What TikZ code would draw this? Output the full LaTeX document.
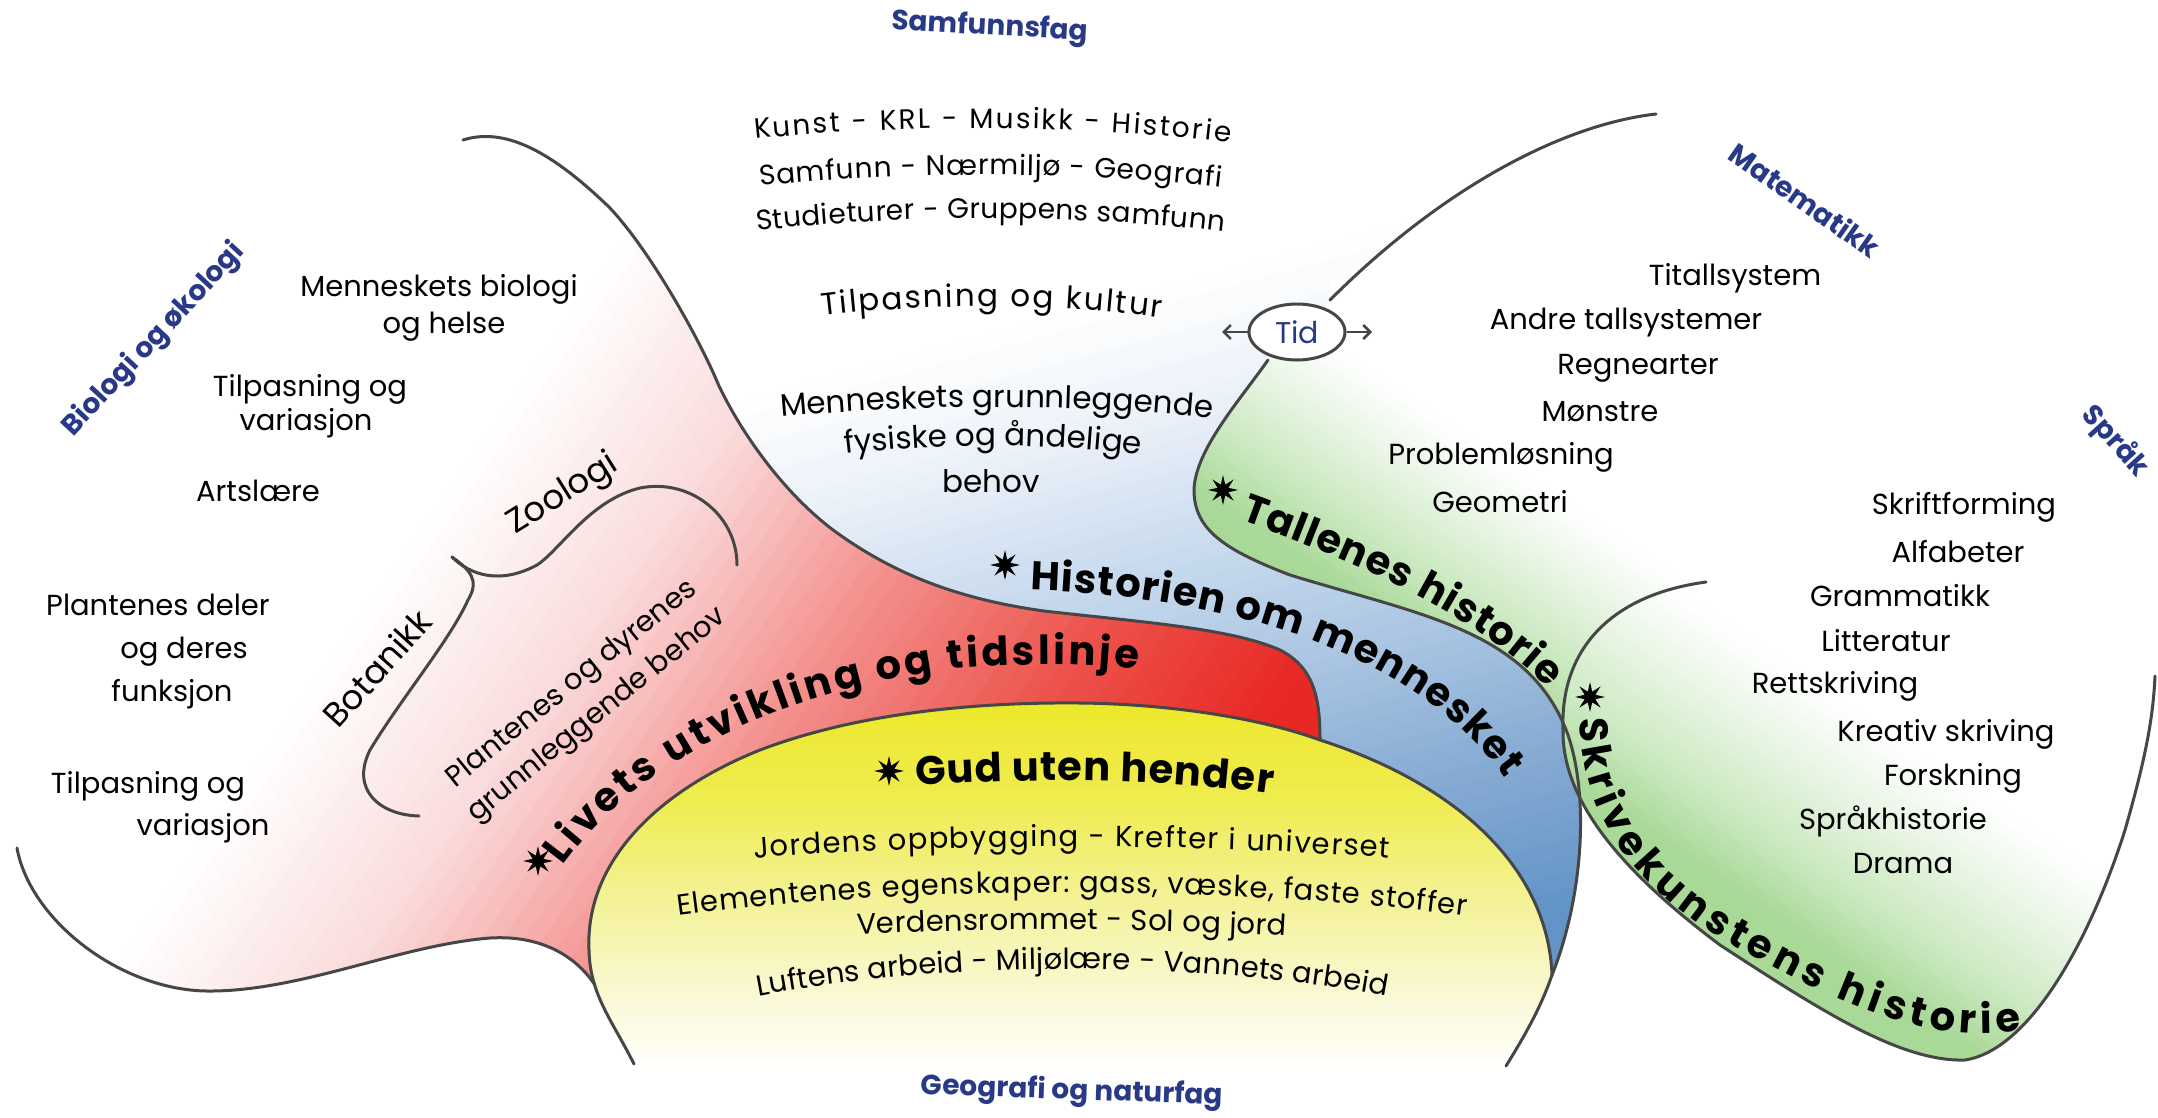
\documentclass[tikz,border=0pt]{standalone}
\usepackage{fontspec}
\setmainfont{Poppins}
\usetikzlibrary{decorations.text,shapes.geometric,arrows.meta}
\definecolor{navy}{RGB}{40,58,135}
\definecolor{ol}{RGB}{70,70,70}
\definecolor{rd1}{RGB}{250,218,218}
\definecolor{rd2}{RGB}{243,145,142}
\definecolor{rd3}{RGB}{237,85,78}
\definecolor{rd4}{RGB}{232,40,36}
\definecolor{bl1}{RGB}{235,241,249}
\definecolor{bl2}{RGB}{205,222,240}
\definecolor{bl3}{RGB}{170,197,226}
\definecolor{bl4}{RGB}{135,172,211}
\definecolor{bl5}{RGB}{98,148,200}
\definecolor{ye1}{RGB}{236,232,42}
\definecolor{ye2}{RGB}{239,236,80}
\definecolor{ye3}{RGB}{244,242,150}
\definecolor{ye4}{RGB}{250,249,215}
\definecolor{gr1}{RGB}{168,217,150}
\definecolor{gr2}{RGB}{205,234,195}
\definecolor{gr3}{RGB}{234,246,230}
% disjoint gradient strips: p0 p1 c0 c1 n
\newcommand\gradseg[5]{%
  \foreach \k in {1,...,#5}{%
    \pgfmathsetmacro\pa{#1+(#2-#1)*(\k-1)/#5}%
    \pgfmathsetmacro\pb{#1+(#2-#1)*\k/#5+1.5}%
    \pgfmathsetmacro\pc{100-100*(\k-0.5)/#5}%
    \fill[#3!\pc!#4] (\pa,-3000) rectangle (\pb,3000);}}
\newcommand\gradfill[3]{\fill[#1] (#2,-3000) rectangle (#3,3000);}
\newcommand\lblfont{\fontsize{29}{34}\selectfont}
\newcommand\smfont{\fontsize{28}{33}\selectfont}
\newcommand\midfont{\fontsize{31}{36}\selectfont}
\newcommand\bigfont{\fontsize{40}{44}\selectfont\bfseries}
\begin{document}
\begin{tikzpicture}[x=1pt,y=-1pt,
  outl/.style={draw=ol, line width=3pt, line cap=round},
  lbl/.style={font=\lblfont, inner sep=0pt},
  ttl/.style={font=\fontsize{28}{32}\selectfont\bfseries, text=navy, inner sep=0pt},
  starx/.style={star, star points=8, star point ratio=2.6, fill=black, minimum size=30pt, inner sep=0pt},
  arrowtid/.style={draw=ol, line width=2.5pt, -{Straight Barb[length=7pt,width=14pt]}},
  fitsm/.style={decorate, decoration={text along path, text align=fit to path, text={|\smfont|#1}}},
  fitmid/.style={decorate, decoration={text along path, text align=fit to path, text={|\midfont|#1}}},
  fitlbl/.style={decorate, decoration={text along path, text align=fit to path, text={|\lblfont|#1}}},
  fitbig/.style={decorate, decoration={text along path, text align=fit to path, text={|\bigfont|#1}}}
]
\useasboundingbox (0,0) rectangle (2158,1117);
\fill[white] (0,0) rectangle (2158,1117);

% ---------- blue region
\begin{scope}
\clip (463,140) .. controls (510,125) and (560,160) .. (609,207)
 .. controls (650,250) and (700,340) .. (719,386)
 .. controls (745,440) and (790,500) .. (840,535)
 .. controls (890,570) and (950,598) .. (1044,611)
 .. controls (1140,622) and (1230,628) .. (1280,650)
 .. controls (1315,668) and (1320,700) .. (1320,740)
 .. controls (1460,785) and (1548,870) .. (1552,975)
 .. controls (1582,900) and (1590,800) .. (1568,735)
 .. controls (1530,630) and (1420,615) .. (1290,575)
 .. controls (1225,550) and (1194,530) .. (1194,490)
 .. controls (1195,450) and (1240,400) .. (1268,360)
 -- (1330,300)
 .. controls (1440,190) and (1560,125) .. (1656,114)
 -- (1656,-50) -- (463,-50) -- cycle;
\begin{scope}[rotate=-75]
 \gradfill{white}{-3000}{581}
 \gradseg{580}{700}{white}{bl1}{8}
 \gradseg{700}{820}{bl1}{bl2}{8}
 \gradseg{820}{980}{bl2}{bl3}{10}
 \gradseg{980}{1120}{bl3}{bl4}{10}
 \gradseg{1120}{1280}{bl4}{bl5}{10}
 \gradfill{bl5}{1280}{5000}
\end{scope}
\end{scope}

% ---------- red region
\begin{scope}
\clip (463,140) .. controls (510,125) and (560,160) .. (609,207)
 .. controls (650,250) and (700,340) .. (719,386)
 .. controls (745,440) and (790,500) .. (840,535)
 .. controls (890,570) and (950,598) .. (1044,611)
 .. controls (1140,622) and (1230,628) .. (1280,650)
 .. controls (1315,668) and (1320,700) .. (1320,740)
 .. controls (1260,718) and (1170,704) .. (1080,703)
 .. controls (980,702) and (860,712) .. (760,750)
 .. controls (660,790) and (585,860) .. (589,950)
 -- (595,985)
 .. controls (575,955) and (540,935) .. (490,938)
 .. controls (400,945) and (300,992) .. (207,991)
 .. controls (120,990) and (30,920) .. (17,848)
 -- (-50,848) -- (-50,140) -- cycle;
\begin{scope}[rotate=-35]
 \gradfill{white}{-3000}{651}
 \gradseg{650}{850}{white}{rd1}{12}
 \gradseg{850}{1050}{rd1}{rd2}{12}
 \gradseg{1050}{1250}{rd2}{rd3}{12}
 \gradseg{1250}{1450}{rd3}{rd4}{12}
 \gradfill{rd4}{1450}{5000}
\end{scope}
\end{scope}

% ---------- yellow dome
\begin{scope}
\clip (634,1064) .. controls (612,1020) and (590,995) .. (589,950)
 .. controls (585,860) and (660,790) .. (760,750)
 .. controls (860,712) and (980,702) .. (1080,703)
 .. controls (1170,704) and (1260,718) .. (1320,740)
 .. controls (1460,785) and (1548,870) .. (1552,975)
 .. controls (1540,1010) and (1522,1040) .. (1506,1066)
 -- (1506,1200) -- (634,1200) -- cycle;
\begin{scope}[rotate=-90]
 \gradfill{ye1}{-3000}{701}
 \gradseg{700}{800}{ye1}{ye2}{8}
 \gradseg{800}{900}{ye2}{ye3}{10}
 \gradseg{900}{1000}{ye3}{ye4}{10}
 \gradseg{1000}{1070}{ye4}{white}{8}
 \gradfill{white}{1070}{5000}
\end{scope}
\end{scope}

% ---------- green (Tallenes)
\begin{scope}
\clip (1268,360) .. controls (1240,400) and (1195,450) .. (1194,490)
 .. controls (1194,530) and (1225,550) .. (1290,575)
 .. controls (1420,615) and (1530,630) .. (1568,735)
 -- (1563,730)
 .. controls (1560,650) and (1610,595) .. (1706,582)
 -- (1800,582) -- (1800,280) -- (1330,280) -- (1330,300) -- cycle;
\begin{scope}[rotate=56]
 \gradfill{gr1}{-3000}{261}
 \gradseg{260}{330}{gr1}{gr2}{8}
 \gradseg{330}{400}{gr2}{gr3}{8}
 \gradseg{400}{460}{gr3}{white}{6}
 \gradfill{white}{460}{5000}
\end{scope}
\end{scope}

% ---------- green (Skrivekunstens)
\begin{scope}
\clip (1706,582) .. controls (1610,595) and (1560,650) .. (1563,730)
 .. controls (1562,800) and (1620,870) .. (1720,945)
 .. controls (1820,1010) and (1900,1062) .. (1965,1060)
 .. controls (2030,1050) and (2090,940) .. (2125,830)
 .. controls (2145,760) and (2153,720) .. (2155,676)
 -- (2155,560) -- (1706,560) -- cycle;
\begin{scope}[rotate=56]
 \gradfill{gr1}{-3000}{231}
 \gradseg{230}{300}{gr1}{gr2}{8}
 \gradseg{300}{380}{gr2}{gr3}{8}
 \gradseg{380}{450}{gr3}{white}{6}
 \gradfill{white}{450}{5000}
\end{scope}
\end{scope}

% ---------- outlines
\draw[outl] (463,140) .. controls (510,125) and (560,160) .. (609,207)
 .. controls (650,250) and (700,340) .. (719,386)
 .. controls (745,440) and (790,500) .. (840,535)
 .. controls (890,570) and (950,598) .. (1044,611)
 .. controls (1140,622) and (1230,628) .. (1280,650)
 .. controls (1315,668) and (1320,700) .. (1320,740);
\draw[outl] (634,1064) .. controls (612,1020) and (590,995) .. (589,950)
 .. controls (585,860) and (660,790) .. (760,750)
 .. controls (860,712) and (980,702) .. (1080,703)
 .. controls (1170,704) and (1260,718) .. (1320,740)
 .. controls (1460,785) and (1548,870) .. (1552,975);
\draw[outl] (17,848) .. controls (30,920) and (120,990) .. (207,991)
 .. controls (300,992) and (400,945) .. (490,938)
 .. controls (540,935) and (575,955) .. (595,985);
\draw[outl] (1656,114) .. controls (1560,125) and (1440,190) .. (1330,300);
\draw[outl] (1268,360) .. controls (1240,400) and (1195,450) .. (1194,490)
 .. controls (1194,530) and (1225,550) .. (1290,575)
 .. controls (1420,615) and (1530,630) .. (1568,735)
 .. controls (1590,800) and (1582,900) .. (1552,975)
 .. controls (1540,1010) and (1522,1040) .. (1506,1066);
\draw[outl] (1706,582) .. controls (1610,595) and (1560,650) .. (1563,730)
 .. controls (1562,800) and (1620,870) .. (1720,945)
 .. controls (1820,1010) and (1900,1062) .. (1965,1060)
 .. controls (2030,1050) and (2090,940) .. (2125,830)
 .. controls (2145,760) and (2153,720) .. (2155,676);
% brace
\draw[outl] (452,557) .. controls (470,575) and (500,585) .. (537,565)
 .. controls (560,550) and (590,500) .. (640,488)
 .. controls (690,478) and (737,515) .. (737,565);
\draw[outl] (452,557) .. controls (470,570) and (480,580) .. (468,600)
 .. controls (450,640) and (400,700) .. (370,750)
 .. controls (350,790) and (380,815) .. (419,816);

% ---------- Tid
\node[draw=ol, line width=3pt, fill=white, ellipse, minimum width=96pt, minimum height=56pt, inner sep=0pt, font=\fontsize{30}{34}\selectfont, text=navy] (tid) at (1297,332) {Tid};
\coordinate (tl) at (1222,332);
\coordinate (tr) at (1372,332);
\draw[arrowtid] (tid.west) -- (tl);
\draw[arrowtid] (tid.east) -- (tr);

% ---------- subject titles
\node[ttl, rotate=-3] (samf) at (990,28) {Samfunnsfag};
\node[ttl, rotate=47] (bio) at (154,340) {Biologi og økologi};
\node[ttl, rotate=-35] (mat) at (1805,200) {Matematikk};
\node[ttl, rotate=-48] (spr) at (2115,442) {Språk};
\node[ttl, rotate=-2] (geo) at (1072,1092) {Geografi og naturfag};

% ---------- Samfunnsfag texts (slightly arched)
\path[fitsm={Kunst - KRL - Musikk - Historie}] (755,139) .. controls (900,124) and (1080,124) .. (1230,143);
\path[fitsm={Samfunn - Nærmiljø - Geografi}] (760,186) .. controls (900,171) and (1080,171) .. (1221,187);
\path[fitsm={Studieturer - Gruppens samfunn}] (757,231) .. controls (900,214) and (1080,214) .. (1224,232);
\path[fitmid={Tilpasning og kultur}] (822,316) .. controls (930,303) and (1050,303) .. (1161,318);
\path[fitmid={Menneskets grunnleggende}] (781,417) .. controls (920,404) and (1065,404) .. (1204,417);
\path[fitmid={fysiske og åndelige}] (845,454) .. controls (940,443) and (1040,443) .. (1137,454);
\node[font=\midfont, inner sep=0pt] (mg) at (991,481) {behov};

% ---------- Matematikk texts
\node[lbl] (m1) at (1735,278) {Titallsystem};
\node[lbl] (m2) at (1626,323) {Andre tallsystemer};
\node[lbl] (m3) at (1638,368) {Regnearter};
\node[lbl] (m4) at (1600,412) {Mønstre};
\node[lbl] (m5) at (1501,457) {Problemløsning};
\node[lbl] (m6) at (1500,502) {Geometri};

% ---------- Språk texts
\node[lbl] (p1) at (1964,507) {Skriftforming};
\node[lbl] (p2) at (1958,552) {Alfabeter};
\node[lbl] (p3) at (1900,596) {Grammatikk};
\node[lbl] (p4) at (1886,641) {Litteratur};
\node[lbl] (p5) at (1835,686) {Rettskriving};
\node[lbl] (p6) at (1946,734) {Kreativ skriving};
\node[lbl] (p7) at (1953,778) {Forskning};
\node[lbl] (p8) at (1893,821) {Språkhistorie};
\node[lbl] (p9) at (1903,864) {Drama};

% ---------- Biologi texts
\node[lbl] (b1) at (439,289) {Menneskets biologi};
\node[lbl] (b2) at (444,327) {og helse};
\node[lbl] (b3) at (310,389) {Tilpasning og};
\node[lbl] (b4) at (306,423) {variasjon};
\node[lbl] (b5) at (258,491) {Artslære};
\node[lbl] (b6) at (158,605) {Plantenes deler};
\node[lbl] (b7) at (184,652) {og deres};
\node[lbl] (b8) at (172,694) {funksjon};
\node[lbl] (b9) at (148,786) {Tilpasning og};
\node[lbl] (b10) at (203,828) {variasjon};
\node[lbl, font=\fontsize{34}{38}\selectfont, rotate=32] (zoo) at (563,495) {Zoologi};
\node[lbl, font=\fontsize{34}{38}\selectfont, rotate=48] (bot) at (377,668) {Botanikk};
\node[lbl, rotate=39, align=center, font=\fontsize{29}{40}\selectfont] (pdb) at (585,700) {Plantenes og dyrenes\\grunnleggende behov};

% ---------- yellow texts
\node[starx] (s5) at (889,771) {};
\path[fitbig={Gud uten hender}] (916,786) .. controls (1030,778) and (1160,778) .. (1272,794);
\path[fitlbl={Jordens oppbygging - Krefter i universet}] (754,858) .. controls (950,843) and (1190,843) .. (1389,858);
\path[fitlbl={Elementenes egenskaper: gass, væske, faste stoffer}] (678,916) .. controls (900,885) and (1240,885) .. (1465,916);
\path[fitlbl={Verdensrommet - Sol og jord}] (857,934) .. controls (1000,928) and (1150,928) .. (1286,936);
\path[fitlbl={Luftens arbeid - Miljølære - Vannets arbeid}] (758,996) .. controls (950,960) and (1190,960) .. (1386,996);

% ---------- curved titles
\node[starx] (s1) at (538,861) {};
\path[fitbig={Livets utvikling og tidslinje}]
  (563,866) .. controls (640,760) and (780,690) .. (960,668) .. controls (1040,662) and (1100,664) .. (1138,670);
\node[starx] (s2) at (1005,565) {};
\path[fitbig={Historien om mennesket}]
  (1030,590) .. controls (1250,598) and (1420,660) .. (1505,778);
\node[starx] (s3) at (1223,490) {};
\path[fitbig={Tallenes historie}]
  (1240,520) .. controls (1350,560) and (1470,610) .. (1548,688);
\node[starx] (s4) at (1590,697) {};
\path[fitbig={Skrivekunstens historie}]
  (1580,718) .. controls (1580,820) and (1640,900) .. (1760,960) .. controls (1860,1015) and (1950,1045) .. (2022,1030);
\end{tikzpicture}
\end{document}
